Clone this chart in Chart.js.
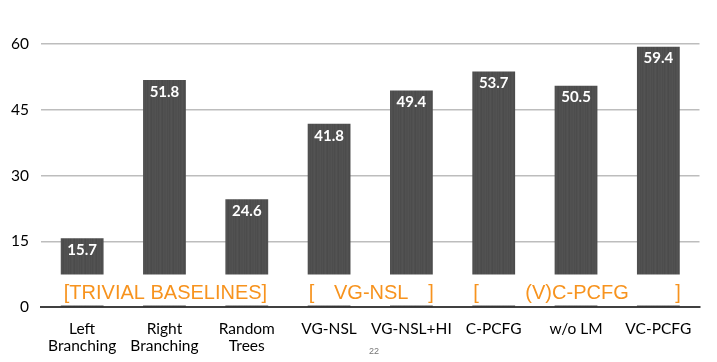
<!DOCTYPE html>
<html>
<head>
<meta charset="utf-8">
<script src="https://cdn.jsdelivr.net/npm/chart.js@4.4.0/dist/chart.umd.min.js"></script>
<style>
html, body { margin: 0; padding: 0; background: #fff; }
#wrap { position: relative; width: 717px; height: 362px; }
</style>
</head>
<body>
<div id="wrap"><canvas id="chart" width="717" height="362"></canvas></div>
<script>
// Data
const categories = [["Left", "Branching"], ["Right", "Branching"], ["Random", "Trees"], "VG-NSL", "VG-NSL+HI", "C-PCFG", "w/o LM", "VC-PCFG"];
const scores = [15.7, 51.8, 24.6, 41.8, 49.4, 53.7, 50.5, 59.4];
const yTicks = [0, 15, 30, 45, 60];
const groupNames = ["TRIVIAL BASELINES", "VG-NSL", "(V)C-PCFG"];
const groupFirst = [0, 3, 5];
const groupLast = [2, 4, 7];
const slideNumber = "22";

// grey texture for the bars (fixed, low-contrast streaks)
function barPattern() {
    const shades = ["#4f4f4f", "#525252", "#4d4d4d", "#515151", "#4c4c4c", "#505050", "#535353", "#4e4e4e", "#4b4b4b", "#515151", "#4f4f4f"];
    const c = document.createElement("canvas");
    c.width = shades.length;
    c.height = 20;
    const g = c.getContext("2d");
    shades.forEach((s, i) => {
        g.fillStyle = s;
        g.fillRect(i, 0, 1, 20);
    });
    return g.createPattern(c, "repeat");
}

const ctx = document.getElementById("chart").getContext("2d");

const overlay = {
    id: "overlay",
    afterDatasetsDraw(chart) {
        const c = chart.ctx;
        const area = chart.chartArea;
        const y = chart.scales.y;
        const base = y.getPixelForValue(0);
        const bars = chart.getDatasetMeta(0).data;

        // white band for the group captions
        c.save();
        c.fillStyle = "#ffffff";
        c.fillRect(area.left - 2, base - 32.5, area.right - area.left + 4, 31);

        // value labels inside bars
        c.fillStyle = "#ffffff";
        c.font = "bold 15px Lato";
        c.textAlign = "center";
        c.textBaseline = "middle";
        scores.forEach((v, i) => {
            c.fillText(v.toFixed(1), bars[i].x, bars[i].y + 12);
        });

        // group captions
        c.fillStyle = "#F7931E";
        c.font = "20px 'Liberation Sans'";
        c.textBaseline = "alphabetic";
        const ty = base - 8;
        groupNames.forEach((name, g) => {
            const b0 = bars[groupFirst[g]];
            const b1 = bars[groupLast[g]];
            const left = b0.x - b0.width / 2 + 1;
            const right = b1.x + b1.width / 2 + 1;
            if (g === 0) {
                c.textAlign = "center";
                c.fillText("[" + name + "]", (left + right) / 2, ty);
            } else {
                c.textAlign = "left";
                c.fillText("[", left, ty);
                c.textAlign = "right";
                c.fillText("]", right, ty);
                c.textAlign = "center";
                c.fillText(name, (left + right) / 2, ty);
            }
        });

        // zero axis line
        c.strokeStyle = "#000000";
        c.lineWidth = 1.5;
        c.beginPath();
        c.moveTo(area.left - 1, base);
        c.lineTo(area.right + 1, base);
        c.stroke();

        // slide number
        c.fillStyle = "#777777";
        c.font = "9px 'Liberation Sans'";
        c.textAlign = "center";
        c.textBaseline = "middle";
        c.fillText(slideNumber, 374, 352);
        c.restore();
    }
};

new Chart(ctx, {
    type: "bar",
    data: {
        labels: categories,
        datasets: [{
            data: scores,
            backgroundColor: barPattern(),
            borderWidth: 0,
            barPercentage: 0.52,
            categoryPercentage: 1.0
        }]
    },
    options: {
        responsive: false,
        animation: false,
        layout: { padding: { top: 44, right: 17.5, left: 0, bottom: 0 } },
        plugins: {
            legend: { display: false },
            tooltip: { enabled: false }
        },
        scales: {
            x: {
                grid: { display: false },
                border: { display: false },
                ticks: {
                    color: "#000000",
                    font: { family: "Lato", size: 15.5, lineHeight: 1.1 },
                    padding: 5,
                    maxRotation: 0,
                    autoSkip: false
                },
                afterFit(scale) { scale.height = 55; }
            },
            y: {
                min: yTicks[0],
                max: yTicks[yTicks.length - 1],
                afterBuildTicks(scale) {
                    scale.ticks = yTicks.map(v => ({ value: v }));
                },
                grid: {
                    drawTicks: false,
                    lineWidth: 1.5,
                    color: c => (c.tick && c.tick.value === 0) ? "rgba(0,0,0,0)" : "#bdbdbd"
                },
                border: { display: false },
                ticks: {
                    color: "#000000",
                    font: { family: "Lato", size: 15.5 },
                    padding: 12
                },
                afterFit(scale) { scale.width = 41; }
            }
        }
    },
    plugins: [overlay]
});
</script>
</body>
</html>
